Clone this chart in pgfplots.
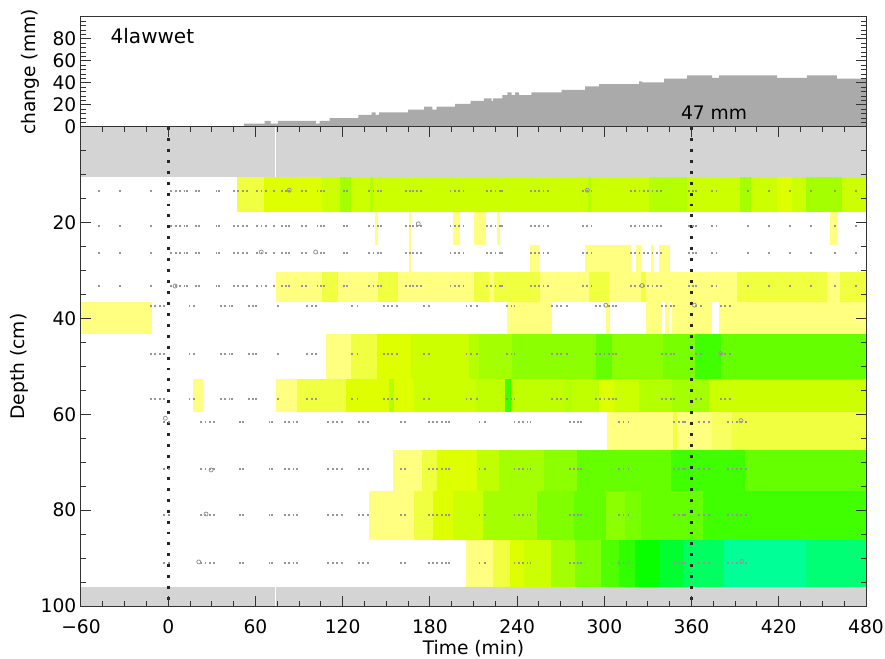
\documentclass[border=0pt]{standalone}
\usepackage{fontspec}
\setmainfont{DejaVu Sans}
\usepackage{pgfplots}
\usepackage{pgfplotstable}
\pgfplotsset{compat=1.18}

% colour scale of the depth map (dry yellow -> wet green)
\definecolor{cA}{HTML}{FFFF80}
\definecolor{cAB}{HTML}{F8FF60}
\definecolor{cB}{HTML}{F0FF40}
\definecolor{cC}{HTML}{DEFF00}
\definecolor{cD}{HTML}{CCFF00}
\definecolor{cDE}{HTML}{C0FF00}
\definecolor{cE}{HTML}{B4FF00}
\definecolor{cF}{HTML}{A4FF00}
\definecolor{cG}{HTML}{8CFF00}
\definecolor{cG2}{HTML}{80FF00}
\definecolor{cGH}{HTML}{78FF00}
\definecolor{cH}{HTML}{66FF00}
\definecolor{cI}{HTML}{40FF00}
\definecolor{kA}{HTML}{50FF00}
\definecolor{kB}{HTML}{30FF00}
\definecolor{kC}{HTML}{08FF00}
\definecolor{kD}{HTML}{00FF30}
\definecolor{kE}{HTML}{00FF60}
\definecolor{kF}{HTML}{00FF96}
\definecolor{kG}{HTML}{00FF74}
\definecolor{band}{RGB}{212,212,212}
\definecolor{chg}{RGB}{170,170,170}
\definecolor{dot}{RGB}{150,150,150}

% reading times of the three sensor groups (min); q = 1 for every reading
\pgfplotstableread[row sep=\\]{t q\\
-47.6 1\\ -33.4 1\\ -12 1\\ 2 1\\ 5 1\\ 8 1\\ 11 1\\ 13 1\\ 19 1\\ 21 1\\ 33 1\\ 35 1\\ 45 1\\ 48 1\\ 51 1\\ 54 1\\
61 1\\ 64 1\\ 67 1\\ 72.8 1\\ 78 1\\ 81 1\\ 83 1\\ 92 1\\ 94.5 1\\ 102.5 1\\ 105 1\\ 107 1\\ 121 1\\ 123 1\\
138 1\\ 141 1\\ 144 1\\ 146 1\\ 163.5 1\\ 166 1\\ 168.5 1\\ 171 1\\ 173.5 1\\ 194 1\\ 197 1\\ 200 1\\ 203 1\\
219 1\\ 222 1\\ 225 1\\ 228 1\\ 229.5 1\\ 249.5 1\\ 252 1\\ 255 1\\ 258 1\\ 261 1\\ 285 1\\ 288 1\\ 291 1\\
318 1\\ 321 1\\ 324 1\\ 327 1\\ 330 1\\ 333 1\\ 336 1\\ 339 1\\ 358 1\\ 361 1\\ 363 1\\ 374 1\\ 377 1\\
398.8 1\\ 413.2 1\\ 427.6 1\\ 442 1\\ 458.5 1\\ 473 1\\
}\readA
\pgfplotstableread[row sep=\\]{t q\\
-12 1\\ -9 1\\ -6 1\\ -3 1\\ 14.5 1\\ 17.5 1\\ 36 1\\ 39 1\\ 42 1\\ 44 1\\ 55.5 1\\ 58 1\\ 60 1\\ 75.5 1\\
95.5 1\\ 98.5 1\\ 101.5 1\\ 126 1\\ 130 1\\ 148 1\\ 151 1\\ 154 1\\ 157 1\\ 176 1\\ 179 1\\ 205 1\\ 208 1\\
212 1\\ 233 1\\ 236 1\\ 238 1\\ 264 1\\ 267 1\\ 270 1\\ 274 1\\ 294 1\\ 297 1\\ 300 1\\ 303 1\\ 306 1\\ 308 1\\
339.5 1\\ 342.5 1\\ 345.5 1\\ 348 1\\ 363 1\\ 366.5 1\\ 380 1\\ 383 1\\ 386 1\\
}\readB
\pgfplotstableread[row sep=\\]{t q\\
-3 1\\ 0.5 1\\ 22.5 1\\ 25.5 1\\ 28.5 1\\ 31.5 1\\ 49 1\\ 51 1\\ 69.5 1\\ 71.5 1\\ 80 1\\ 83 1\\ 86 1\\
88.5 1\\ 110 1\\ 113 1\\ 116 1\\ 119.5 1\\ 131 1\\ 134 1\\ 137.5 1\\ 160 1\\ 162.5 1\\ 179 1\\ 182 1\\
185 1\\ 188 1\\ 191 1\\ 193 1\\ 214 1\\ 218 1\\ 238 1\\ 241 1\\ 244 1\\ 247 1\\ 249 1\\ 276 1\\ 279 1\\
282 1\\ 284 1\\ 310 1\\ 313 1\\ 316.5 1\\ 348 1\\ 351 1\\ 354 1\\ 355.5 1\\ 365 1\\ 368.5 1\\ 372 1\\
385 1\\ 388 1\\ 391 1\\ 394 1\\ 397 1\\
}\readC

\newcommand\fs{\fontsize{14}{16}\selectfont}
% one cell of the map: t1 t2 depth1 depth2 colour
\newcommand\cell[5]{\addplot[draw=none,fill=#5,forget plot] coordinates {(#1,#3) (#2,#3) (#2,#4) (#1,#4)};}
% one row of sensor readings at a given depth
\newcommand\readings[2]{\addplot[only marks, mark=square*, mark size=0.32pt, dot, forget plot] table[x=t, y expr=\thisrow{q}*#2] {#1};}

\begin{document}
\begin{tikzpicture}
\pgfplotsset{
  /pgf/number format/assume math mode=true,
  every axis/.append style={
    scale only axis, width=588.75pt,
    xmin=-60, xmax=480,
    tick align=inside,
    major tick length=7.5pt, minor tick length=3.75pt,
    axis line style={line width=0.75pt, black!80},
    every tick/.style={black!80, line width=0.75pt},
    tick label style={font=\fs},
    label style={font=\fs},
  },
}

% ---------------- depth map ----------------
\begin{axis}[
  at={(0,0)}, anchor=south west, height=359.25pt,
  ymin=0, ymax=100, y dir=reverse,
  xtick={-60,0,...,480}, minor x tick num=3,
  xticklabels={−60,0,60,120,180,240,300,360,420,480},
  xticklabel style={yshift=-7pt},
  ytick={0,20,...,100}, minor y tick num=3,
  yticklabels={0,20,40,60,80,100},
  xtick pos=both, ytick pos=both,
  xticklabel pos=lower, yticklabel pos=left,
  axis on top,
  xlabel={Time (min)}, ylabel={Depth (cm)},
  xlabel style={at={(axis description cs:0.5,-0.088)}, anchor=center},
  ylabel style={at={(axis description cs:-0.078,0.5)}, anchor=center},
]
% grey bands (no sensor)
\cell{-60}{480}{0}{10.4}{band}
\cell{-60}{480}{96}{100}{band}
\addplot[white, line width=0.75pt, forget plot] coordinates {(74,0) (74,10.4)};
\addplot[white, line width=0.75pt, forget plot] coordinates {(74,96) (74,100)};

% row 10.4-17.7
\cell{47.5}{66}{10.4}{17.7}{cB}
\cell{66}{106}{10.4}{17.7}{cC}
\cell{106}{118.5}{10.4}{17.7}{cD}
\cell{118.5}{125.5}{10.4}{17.7}{cF}
\cell{125.5}{139}{10.4}{17.7}{cD}
\cell{139}{141}{10.4}{17.7}{cE}
\cell{141}{289}{10.4}{17.7}{cD}
\cell{289}{291}{10.4}{17.7}{cE}
\cell{291}{330.7}{10.4}{17.7}{cD}
\cell{330.7}{357}{10.4}{17.7}{cE}
\cell{357}{393}{10.4}{17.7}{cD}
\cell{393}{400.7}{10.4}{17.7}{cF}
\cell{400.7}{418.8}{10.4}{17.7}{cD}
\cell{418.8}{429}{10.4}{17.7}{cC}
\cell{429}{438.5}{10.4}{17.7}{cD}
\cell{438.5}{463.5}{10.4}{17.7}{cF}
\cell{463.5}{480}{10.4}{17.7}{cD}

% row 17.7-24.6
\cell{142.5}{144}{17.7}{24.6}{cA}
\cell{165.5}{167}{17.7}{30.2}{cA}
\cell{196}{201}{17.7}{24.6}{cA}
\cell{210.4}{218.6}{17.7}{24.6}{cA}
\cell{226}{228}{17.7}{24.6}{cA}
\cell{455}{460}{17.7}{24.6}{cA}

% row 24.6-30.2
\cell{249}{255}{24.6}{30.2}{cA}
\cell{287}{318}{24.6}{30.2}{cA}
\cell{321.6}{325}{24.6}{30.2}{cA}
\cell{332}{334}{24.6}{30.2}{cA}
\cell{337.6}{345}{24.6}{30.2}{cA}

% row 30.2-36.5
\cell{74}{106}{30.2}{36.5}{cA}
\cell{106}{117}{30.2}{36.5}{cB}
\cell{117}{144}{30.2}{36.5}{cA}
\cell{144}{158.3}{30.2}{36.5}{cB}
\cell{158.3}{210.4}{30.2}{36.5}{cA}
\cell{210.4}{220.7}{30.2}{36.5}{cB}
\cell{220.7}{224}{30.2}{36.5}{cA}
\cell{224}{256}{30.2}{36.5}{cB}
\cell{256}{289.5}{30.2}{36.5}{cA}
\cell{289.5}{303}{30.2}{36.5}{cB}
\cell{303}{325}{30.2}{36.5}{cA}
\cell{325}{328.5}{30.2}{36.5}{cB}
\cell{328.5}{391.5}{30.2}{36.5}{cA}
\cell{391.5}{453}{30.2}{36.5}{cB}
\cell{453}{462}{30.2}{36.5}{cA}
\cell{462}{480}{30.2}{36.5}{cB}

% row 36.5-43.3
\cell{-60}{-11}{36.5}{43.3}{cA}
\cell{233.3}{264}{36.5}{43.3}{cA}
\cell{301}{303.6}{36.5}{43.3}{cA}
\cell{328.5}{339.8}{36.5}{43.3}{cA}
\cell{341.5}{344.5}{36.5}{43.3}{cA}
\cell{346.8}{374.3}{36.5}{43.3}{cA}
\cell{379}{480}{36.5}{43.3}{cA}

% row 43.3-52.7
\cell{108.3}{126}{43.3}{52.7}{cA}
\cell{126}{143.9}{43.3}{52.7}{cB}
\cell{143.9}{167.2}{43.3}{52.7}{cC}
\cell{167.2}{207}{43.3}{52.7}{cD}
\cell{207}{214}{43.3}{52.7}{cE}
\cell{214}{236.7}{43.3}{52.7}{cF}
\cell{236.7}{294}{43.3}{52.7}{cG}
\cell{294}{305}{43.3}{52.7}{cH}
\cell{305}{340.4}{43.3}{52.7}{cG}
\cell{340.4}{362.4}{43.3}{52.7}{cGH}
\cell{362.4}{380}{43.3}{52.7}{cI}
\cell{380}{480}{43.3}{52.7}{cH}

% row 52.7-59.4
\cell{17}{24}{52.7}{59.4}{cA}
\cell{74.4}{88.8}{52.7}{59.4}{cA}
\cell{88.8}{122}{52.7}{59.4}{cB}
\cell{122}{152}{52.7}{59.4}{cC}
\cell{152}{155}{52.7}{59.4}{cE}
\cell{155}{169}{52.7}{59.4}{cC}
\cell{169}{211.5}{52.7}{59.4}{cD}
\cell{211.5}{232}{52.7}{59.4}{cDE}
\cell{232}{235.6}{52.7}{59.4}{cI}
\cell{235.6}{273.6}{52.7}{59.4}{cDE}
\cell{273.6}{277.8}{52.7}{59.4}{cE}
\cell{277.8}{296.4}{52.7}{59.4}{cDE}
\cell{296.4}{306.7}{52.7}{59.4}{cC}
\cell{306.7}{323.9}{52.7}{59.4}{cD}
\cell{323.9}{346.6}{52.7}{59.4}{cE}
\cell{346.6}{372}{52.7}{59.4}{cF}
\cell{372}{480}{52.7}{59.4}{cD}

% row 59.4-67.5
\cell{301.6}{347}{59.4}{67.5}{cA}
\cell{347}{350}{59.4}{67.5}{cB}
\cell{350}{374}{59.4}{67.5}{cA}
\cell{374}{387.7}{59.4}{67.5}{cAB}
\cell{387.7}{480}{59.4}{67.5}{cB}

% row 67.5-76.0
\cell{154.8}{174.5}{67.5}{76.0}{cA}
\cell{174.5}{184.8}{67.5}{76.0}{cB}
\cell{184.8}{212.6}{67.5}{76.0}{cC}
\cell{212.6}{227.8}{67.5}{76.0}{cDE}
\cell{227.8}{258.4}{67.5}{76.0}{cF}
\cell{258.4}{281.2}{67.5}{76.0}{cG}
\cell{281.2}{346}{67.5}{76.0}{cH}
\cell{346}{396.8}{67.5}{76.0}{cI}
\cell{396.8}{480}{67.5}{76.0}{cH}

% row 76.0-86.3
\cell{138.4}{169}{76.0}{86.3}{cA}
\cell{169}{182}{76.0}{86.3}{cB}
\cell{182}{196}{76.0}{86.3}{cC}
\cell{196}{216.7}{76.0}{86.3}{cD}
\cell{216.7}{254}{76.0}{86.3}{cF}
\cell{254}{279}{76.0}{86.3}{cG2}
\cell{279}{301.4}{76.0}{86.3}{cH}
\cell{301.4}{314}{76.0}{86.3}{cG}
\cell{314}{325}{76.0}{86.3}{cGH}
\cell{325}{368}{76.0}{86.3}{cH}
\cell{368}{480}{76.0}{86.3}{cI}

% row 86.3-96
\cell{204.8}{223.6}{86.3}{96}{cA}
\cell{223.6}{234.8}{86.3}{96}{cB}
\cell{234.8}{244.5}{86.3}{96}{cC}
\cell{244.5}{263.4}{86.3}{96}{cD}
\cell{263.4}{280}{86.3}{96}{cF}
\cell{280}{297.9}{86.3}{96}{cG2}
\cell{297.9}{309.8}{86.3}{96}{kA}
\cell{309.8}{320.9}{86.3}{96}{kB}
\cell{320.9}{337.6}{86.3}{96}{kC}
\cell{337.6}{354.3}{86.3}{96}{kD}
\cell{354.3}{382}{86.3}{96}{kE}
\cell{382}{439}{86.3}{96}{kF}
\cell{439}{480}{86.3}{96}{kG}

% sensor readings
\readings{\readA}{13.4}
\readings{\readA}{20.7}
\readings{\readA}{26.2}
\readings{\readA}{33.1}
\readings{\readB}{37.4}
\readings{\readB}{47.4}
\readings{\readB}{56.8}
\readings{\readC}{61.5}
\readings{\readC}{71.4}
\readings{\readC}{80.9}
\readings{\readC}{91.0}
\addplot[only marks, mark=o, mark size=1.5pt, dot, line width=0.6pt, forget plot] coordinates {
  (83.3,13.2) (288.3,13.2) (172,20.2) (64,26.1) (101.4,26.1) (4.7,33.2) (326,33.1)
  (301,37.2) (362,37.2) (380,47.3) (-2,60.8) (394,61.3) (29.5,71.6) (26,80.8)
  (21,90.8) (394.5,90.7)};

% start of irrigation and end
\addplot[black!85, line width=2.2pt, dash pattern=on 2.2pt off 6pt, forget plot] coordinates {(0,0) (0,100)};
\addplot[black!85, line width=2.2pt, dash pattern=on 2.2pt off 6pt, forget plot] coordinates {(360,0) (360,100)};
\end{axis}

% ---------------- storage change ----------------
\begin{axis}[
  at={(0,359.25pt)}, anchor=south west, height=82.5pt,
  ymin=0, ymax=100,
  xtick=\empty,
  ytick={0,20,...,100}, minor y tick num=4,
  yticklabels={,20,40,60,80,},
  ytick pos=both, yticklabel pos=left,
  axis on top,
  ylabel={change (mm)},
  ylabel style={at={(axis description cs:-0.065,0.5)}, anchor=center},
]
\addplot[const plot, draw=none, fill=chg] coordinates {
  (-60,0) (52,3.1) (66.4,5.6) (70.5,3.1) (75.5,5.6) (101.5,3.1) (104.2,5.6)
  (111.1,8.0) (130.8,11.1) (140,13.2) (142.7,11.1) (145,13.2) (165,15.7)
  (176,18.5) (181.7,15.7) (184.7,18.5) (197.3,20.9) (208,23.7) (217.2,26.1)
  (222.5,23.7) (223.5,26.1) (229.8,28.9) (233.3,31.4) (236.3,28.9) (238.6,31.4)
  (241.3,28.9) (249.8,31.4) (270.7,33.8) (286.7,36.9) (296.4,39.0) (323.9,41.5)
  (326,40.6) (341.1,44.0) (356.9,47.0) (374.1,44.6) (378.9,47.0) (418.8,44.6)
  (439.4,47.0) (460,44.0) (480,44.0)} \closedcycle;
\node[font=\fontsize{15}{17}\selectfont, anchor=west] at (axis cs:-42.8,82.7) {4lawwet};
\node[font=\fs] at (axis cs:375.5,12.6) {47 mm};
\end{axis}

\pgfresetboundingbox
\path[use as bounding box] (-60.75pt,-39.75pt) rectangle (603pt,454.5pt);
\end{tikzpicture}
\end{document}
